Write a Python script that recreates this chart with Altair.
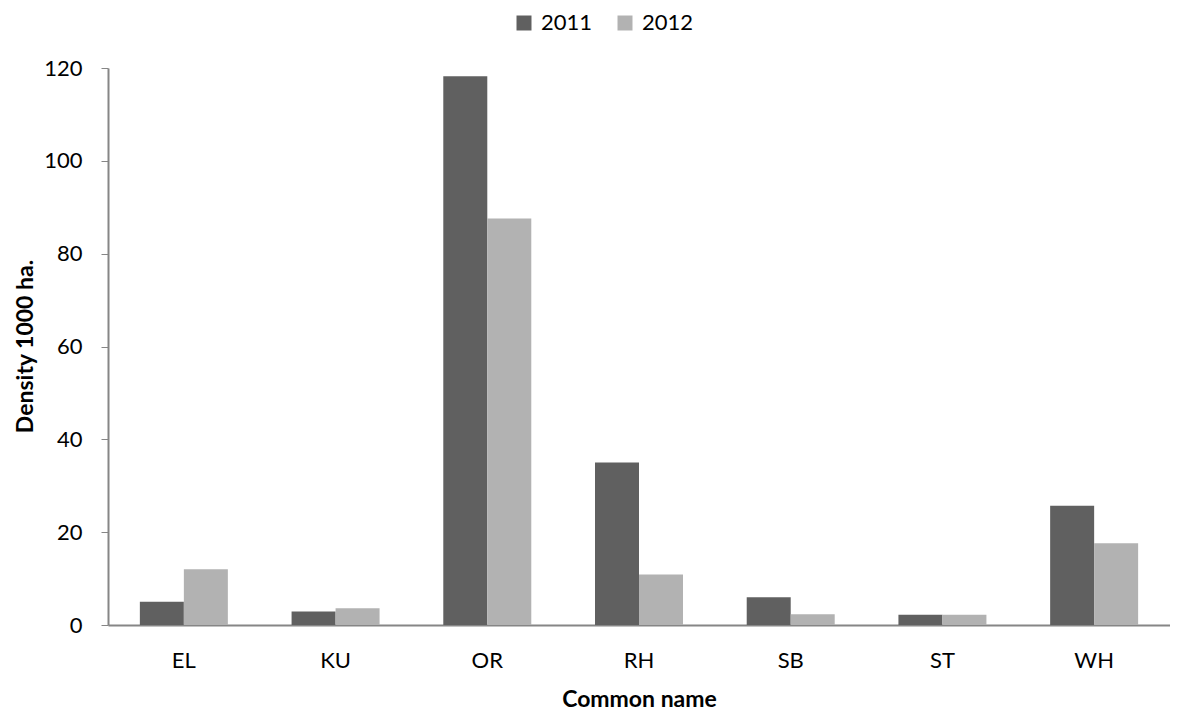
import altair as alt
import pandas as pd

names = ["EL", "KU", "OR", "RH", "SB", "ST", "WH"]
years = ["2011", "2012"]
vals_2011 = [5.0, 2.9, 118.2, 35.0, 6.0, 2.2, 25.7]
vals_2012 = [12.0, 3.6, 87.6, 10.9, 2.3, 2.2, 17.6]
colors = ["#606060", "#b2b2b2"]
y_ticks = [0, 20, 40, 60, 80, 100, 120]

rows = []
for n, a, b in zip(names, vals_2011, vals_2012):
    rows.append({"name": n, "year": years[0], "value": a})
    rows.append({"name": n, "year": years[1], "value": b})
df = pd.DataFrame(rows)

axis_color = "#868686"

chart = alt.Chart(df).mark_bar().encode(
    x=alt.X(
        "name:N",
        sort=names,
        scale=alt.Scale(paddingInner=0.42, paddingOuter=0.21),
        axis=alt.Axis(
            title="Common name",
            labelAngle=0,
            ticks=False,
            tickSize=0,
            labelPadding=25,
            labelFontSize=22,
            labelColor="#000000",
            domainColor=axis_color,
            domainWidth=2,
            titleFontSize=23,
            titleFontWeight="bold",
            titleColor="#000000",
            titleBaseline="alphabetic",
            titleY=81,
        ),
    ),
    xOffset=alt.XOffset("year:N", sort=years, scale=alt.Scale(paddingInner=0, paddingOuter=0)),
    y=alt.Y(
        "value:Q",
        scale=alt.Scale(domain=[0, 120], nice=False),
        axis=alt.Axis(
            title="Density 1000 ha.",
            values=y_ticks,
            grid=False,
            tickSize=7,
            tickColor=axis_color,
            domainColor=axis_color,
            domainWidth=2,
            labelPadding=19,
            labelFontSize=22,
            labelColor="#000000",
            titleFontSize=23,
            titleFontWeight="bold",
            titleColor="#000000",
            titleBaseline="alphabetic",
            titleAngle=-90,
            titleAlign="center",
            titleX=-76,
            titleY=278,
        ),
    ),
    color=alt.Color(
        "year:N",
        sort=years,
        scale=alt.Scale(domain=years, range=colors),
        legend=alt.Legend(
            title=None,
            orient="none",
            direction="horizontal",
            legendX=405,
            legendY=-56,
            symbolType="square",
            symbolSize=225,
            symbolStrokeWidth=0,
            symbolOpacity=1,
            labelFontSize=22,
            labelColor="#000000",
            labelOffset=6,
            columnPadding=21,
            padding=0,
        ),
    ),
).properties(
    width=1062,
    height=557,
    autosize=alt.AutoSizeParams(type="none"),
    padding={"left": 100, "top": 60, "right": 0, "bottom": 88},
).configure(
    font="Lato",
).configure_view(
    stroke=None,
)

chart.save("out.html", embed_options={"renderer": "svg", "actions": False})
